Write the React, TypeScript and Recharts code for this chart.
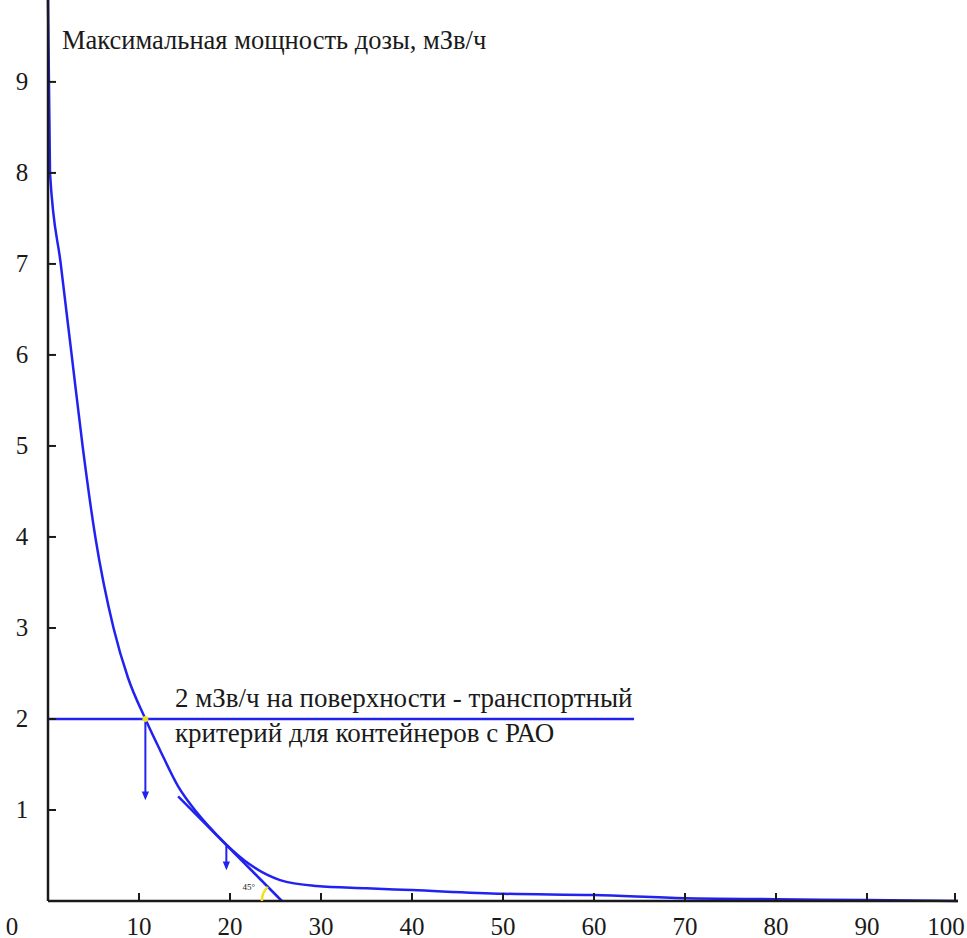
import { LineChart, Line, XAxis, YAxis, ReferenceLine, ReferenceDot } from 'recharts';

// thickness of the container wall (x) vs. max dose rate, mSv/h (y)
const doseX = [0, 0.22, 1.4, 2.6, 3.8, 5.2, 7.2, 8.8, 10.7, 12.3, 14.3, 16.3, 17.4, 19.6, 22.2, 25.5, 29.5, 35, 40, 50, 60, 70, 80, 90, 100];
const doseY = [9.9, 8.0, 7.0, 6.0, 5.0, 4.0, 3.0, 2.45, 2.0, 1.66, 1.26, 0.98, 0.85, 0.62, 0.4, 0.23, 0.165, 0.14, 0.12, 0.08, 0.065, 0.03, 0.02, 0.01, 0];

const xTicks = [0, 10, 20, 30, 40, 50, 60, 70, 80, 90, 100];
const yTicks = [1, 2, 3, 4, 5, 6, 7, 8, 9];

// annotation values
const limitDose = 2;
const limitEndX = 64.4;
const crossX = 10.7;
const arrow1End = 1.14;
const tangentPoint = { x: 19.6, y: 0.62 };
const arrow2End = 0.37;
const tangentStart = { x: 14.3, y: 1.15 };
const tangentEnd = { x: 25.7, y: 0 };

const BLUE = '#2222f0';
const INK = '#1a1a1a';
const FONT = '"Liberation Serif", "DejaVu Serif", serif';

const chartData = doseX.map((x, i) => ({ x, y: doseY[i] }));

function XTick({ x, y, payload }: any) {
  const v = payload.value;
  return (
    <g>
      {v !== 0 && <line x1={x} x2={x} y1={y} y2={y - 8} stroke={INK} strokeWidth={2} />}
      <text
        x={v === 0 ? x - 36 : v === 100 ? x - 9 : x}
        y={y + 25}
        textAnchor="middle"
        dominantBaseline="central"
        fontFamily={FONT}
        fontSize={25}
        fill={INK}
      >
        {v}
      </text>
    </g>
  );
}

function YTick({ x, y, payload }: any) {
  return (
    <g>
      <line x1={x} x2={x + 8} y1={y} y2={y} stroke={INK} strokeWidth={2} />
      <text
        x={x - 26}
        y={y}
        textAnchor="middle"
        dominantBaseline="central"
        fontFamily={FONT}
        fontSize={25}
        fill={INK}
      >
        {payload.value}
      </text>
    </g>
  );
}

function AngleMark({ cx, cy }: any) {
  const r = 20;
  const d = r * Math.SQRT1_2;
  return (
    <g>
      <path
        d={`M ${cx - r} ${cy} A ${r} ${r} 0 0 1 ${cx - d} ${cy - d}`}
        fill="none"
        stroke="#f0e020"
        strokeWidth={2.5}
      />
      <text x={cx - 33} y={cy - 11} fontFamily={FONT} fontSize={9} textAnchor="middle" fill={INK}>
        45°
      </text>
    </g>
  );
}

function ArrowTip({ cx, cy }: any) {
  return <path d={`M ${cx - 2.5} ${cy - 5} L ${cx} ${cy + 1} L ${cx + 2.5} ${cy - 5} Z`} fill={BLUE} stroke={BLUE} strokeWidth={1.5} />;
}

export default function App() {
  return (
    <div style={{ position: 'absolute', left: 0, top: 0, width: 967, height: 938, background: '#fff', overflow: 'hidden' }}>
      <LineChart width={967} height={938} data={chartData} margin={{ top: 0, right: 9, bottom: 0, left: 0 }}>
        <XAxis
          dataKey="x"
          type="number"
          domain={[0, 100]}
          ticks={xTicks}
          height={37}
          tickSize={0}
          tickMargin={0}
          tickLine={false}
          tick={<XTick />}
          axisLine={{ stroke: INK, strokeWidth: 2.5 }}
        />
        <YAxis
          type="number"
          domain={[0, 9.9]}
          ticks={yTicks}
          width={48}
          tickSize={0}
          tickMargin={0}
          tickLine={false}
          tick={<YTick />}
          axisLine={{ stroke: INK, strokeWidth: 2.5 }}
        />
        <ReferenceLine
          segment={[{ x: 0, y: limitDose }, { x: limitEndX, y: limitDose }]}
          stroke={BLUE}
          strokeWidth={2.5}
        />
        <ReferenceLine
          segment={[{ x: crossX, y: limitDose }, { x: crossX, y: arrow1End }]}
          stroke={BLUE}
          strokeWidth={2}
        />
        <ReferenceDot x={crossX} y={arrow1End} shape={<ArrowTip />} />
        <ReferenceLine
          segment={[{ x: tangentPoint.x, y: tangentPoint.y }, { x: tangentPoint.x, y: arrow2End }]}
          stroke={BLUE}
          strokeWidth={2}
        />
        <ReferenceDot x={tangentPoint.x} y={arrow2End} shape={<ArrowTip />} />
        <ReferenceLine segment={[tangentStart, tangentEnd]} stroke={BLUE} strokeWidth={2.5} />
        <ReferenceDot x={tangentEnd.x} y={tangentEnd.y} shape={<AngleMark />} />
        <Line
          dataKey="y"
          type="monotone"
          stroke={BLUE}
          strokeWidth={2.5}
          dot={false}
          activeDot={false}
          isAnimationActive={false}
        />
        <ReferenceDot x={crossX} y={limitDose} r={3} fill="#f0e020" stroke="none" />
      </LineChart>
      <div
        style={{
          position: 'absolute',
          left: 62,
          top: 24,
          fontFamily: FONT,
          fontSize: 26.5,
          lineHeight: '32px',
          color: INK,
          whiteSpace: 'nowrap',
        }}
      >
        Максимальная мощность дозы, мЗв/ч
      </div>
      <div
        style={{
          position: 'absolute',
          left: 175,
          top: 681,
          fontFamily: FONT,
          fontSize: 27,
          lineHeight: '35px',
          color: INK,
          whiteSpace: 'nowrap',
        }}
      >
        2 мЗв/ч на поверхности - транспортный
        <br />
        критерий для контейнеров с РАО
      </div>
    </div>
  );
}
